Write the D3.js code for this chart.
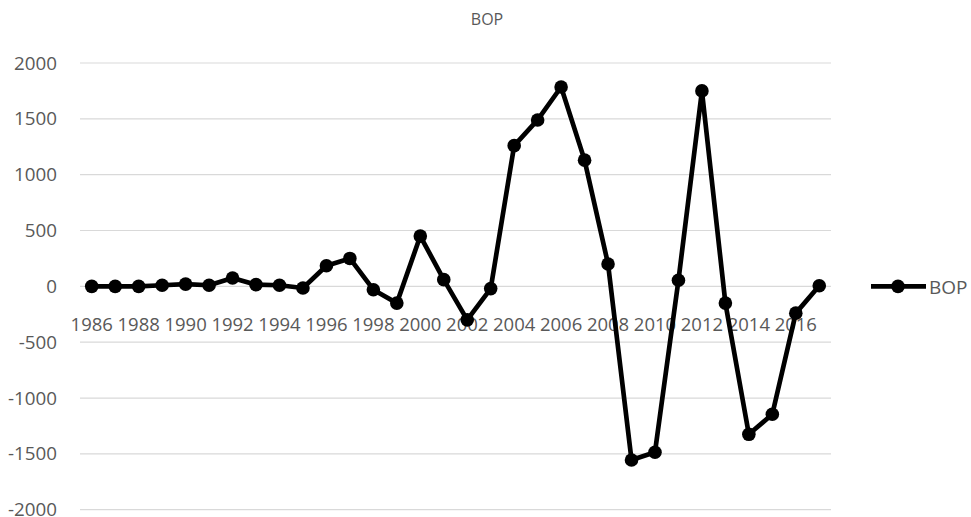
<!DOCTYPE html>
<html>
<head>
<meta charset="utf-8">
<script src="https://cdn.jsdelivr.net/npm/d3@7"></script>
<style>
  html, body { margin: 0; padding: 0; background: #ffffff; }
  svg { display: block; }
  text { font-family: "Open Sans", "Noto Sans", sans-serif; fill: #595959; }
</style>
</head>
<body>
<svg id="chart" width="971" height="517"></svg>
<script>
const years = [1986,1987,1988,1989,1990,1991,1992,1993,1994,1995,1996,1997,1998,1999,2000,2001,
               2002,2003,2004,2005,2006,2007,2008,2009,2010,2011,2012,2013,2014,2015,2016,2017];
const bop = [0,0,0,10,20,10,75,15,10,-15,185,250,-30,-150,450,60,
             -300,-20,1260,1490,1785,1130,200,-1555,-1485,55,1750,-150,-1325,-1145,-240,5];
const yTicks = [-2000,-1500,-1000,-500,0,500,1000,1500,2000];
const xTickLabels = years.filter(y => y % 2 === 0);
const seriesName = "BOP";
const chartTitle = "BOP";

const svg = d3.select("#chart");
const plotLeft = 80, plotRight = 831, plotTop = 63, plotBottom = 509.7;

const x = d3.scaleBand().domain(years).range([plotLeft, plotRight]);
const cx = d => x(d) + x.bandwidth() / 2;
const y = d3.scaleLinear().domain([-2000, 2000]).range([plotBottom, plotTop]);

// gridlines
svg.append("g").selectAll("line").data(yTicks).join("line")
  .attr("x1", plotLeft).attr("x2", plotRight)
  .attr("y1", d => y(d)).attr("y2", d => y(d))
  .attr("stroke", "#d9d9d9").attr("stroke-width", 1.2);

// y axis labels
const yAxis = d3.axisLeft(y).tickValues(yTicks).tickSize(0).tickPadding(0).tickFormat(d => String(d));
const yg = svg.append("g").attr("transform", "translate(57,0)").call(yAxis);
yg.select(".domain").remove();
yg.selectAll("text").attr("font-size", "18.8px").attr("fill", "#595959")
  .style("font-family", "'Open Sans', sans-serif");

// x axis labels
const xAxis = d3.axisBottom(x).tickValues(xTickLabels).tickSize(0).tickPadding(0);
const xg = svg.append("g").attr("transform", "translate(0," + y(0) + ")").call(xAxis);
xg.select(".domain").remove();
xg.selectAll("text").attr("font-size", "18.5px").attr("fill", "#595959")
  .attr("y", 44.5).attr("dy", null)
  .style("font-family", "'Open Sans', sans-serif");

// line
const line = d3.line().x((d, i) => cx(years[i])).y(d => y(d));
svg.append("path").datum(bop)
  .attr("d", line).attr("fill", "none")
  .attr("stroke", "#000").attr("stroke-width", 4.7).attr("stroke-linejoin", "round");

svg.append("g").selectAll("circle").data(bop).join("circle")
  .attr("cx", (d, i) => cx(years[i])).attr("cy", d => y(d)).attr("r", 6.8)
  .attr("fill", "#000");

// title
svg.append("text").attr("x", 487).attr("y", 25).attr("text-anchor", "middle")
  .attr("font-size", "16px").text(chartTitle);

// legend
const lg = svg.append("g");
lg.append("line").attr("x1", 871).attr("x2", 926).attr("y1", y(0)).attr("y2", y(0))
  .attr("stroke", "#000").attr("stroke-width", 4.7);
lg.append("circle").attr("cx", 898).attr("cy", y(0)).attr("r", 6.8).attr("fill", "#000");
lg.append("text").attr("x", 929).attr("y", 294).attr("font-size", "19px").text(seriesName);
</script>
</body>
</html>
